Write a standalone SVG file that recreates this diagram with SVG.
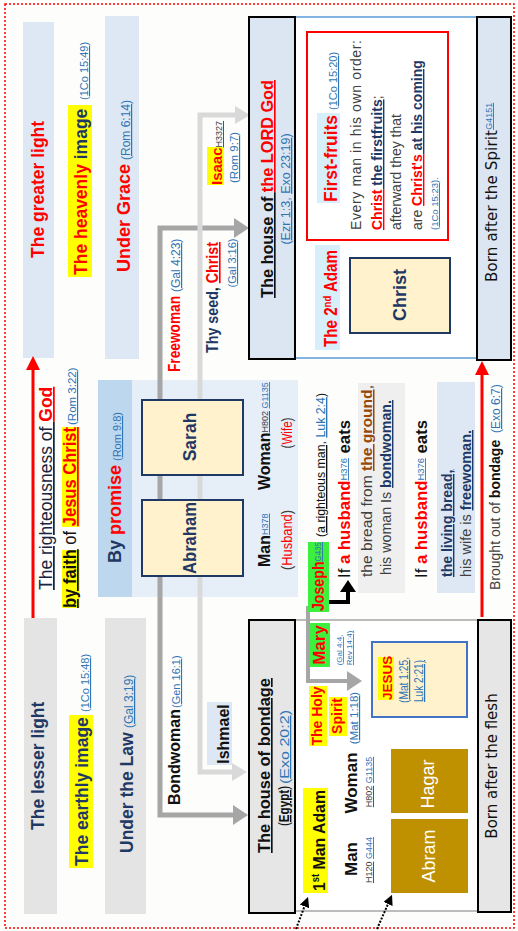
<svg xmlns="http://www.w3.org/2000/svg" width="518" height="931" viewBox="0 0 518 931">
<defs>
<style>
text{font-family:"Liberation Sans",Arial,sans-serif}
.b{font-weight:bold}
.red{fill:#ff0000}
.nv{fill:#1f3864}
.bk{fill:#111111}
.gy{fill:#404040}
.ref{fill:#2e75b6}
.u{text-decoration:underline}
.dj{font-family:"DejaVu Sans",sans-serif}
.yl{fill:#ffff00}
.gr{fill:#3ef03e}
.cy{fill:#d7effa}
.lb{fill:#dde8f4}
.lg{fill:#e4e4e4}
.node{fill:#fff2cc;stroke:#1f3864;stroke-width:2}
.hdr{stroke:#000;stroke-width:2}
.gold{fill:#bf9000}
.cd{fill:none;stroke:#a6a6a6;stroke-width:5}
.cl{fill:none;stroke:#d9d9d9;stroke-width:5}
</style>
<marker id="ahD" markerUnits="userSpaceOnUse" markerWidth="16" markerHeight="20" refX="0" refY="10" orient="auto"><path d="M0,0 L15,10 L0,20 z" fill="#a6a6a6"/></marker>
<marker id="ahL" markerUnits="userSpaceOnUse" markerWidth="16" markerHeight="20" refX="0" refY="10" orient="auto"><path d="M0,1 L15,10 L0,19 z" fill="#d9d9d9"/></marker>
<marker id="ahR" markerUnits="userSpaceOnUse" markerWidth="15" markerHeight="14" refX="0" refY="7" orient="auto"><path d="M0,0 L14,7 L0,14 z" fill="#ff0000"/></marker>
<marker id="ahB" markerUnits="userSpaceOnUse" markerWidth="13" markerHeight="16" refX="0" refY="8" orient="auto"><path d="M0,0 L12,8 L0,16 z" fill="#000"/></marker>
<marker id="ahS" markerUnits="userSpaceOnUse" markerWidth="11" markerHeight="10" refX="0" refY="5" orient="auto"><path d="M0,0 L10,5 L0,10 z" fill="#000"/></marker>
</defs>

<rect width="518" height="931" fill="#fdfdfb"/>
<rect x="5" y="4" width="509" height="924" fill="none" stroke="#ff0000" stroke-width="1.5" stroke-dasharray="2 2"/>

<g id="greater-light">
<rect x="23" y="22" width="31" height="336" class="lb"/>
<text class="b red" font-size="17.5" transform="translate(44,258) rotate(-90)">The greater light</text>
</g>
<g id="lesser-light">
<rect x="24" y="618" width="33" height="296" class="lg"/>
<text class="b nv" font-size="17.5" transform="translate(44,830) rotate(-90)">The lesser light</text>
</g>
<g id="heavenly-image">
<rect x="68" y="105" width="24" height="172" class="yl"/>
<text class="b" font-size="17.5" transform="translate(87,275) rotate(-90)"><tspan class="red">The heavenly</tspan><tspan class="nv"> image</tspan></text>
<text class="ref" font-size="11" transform="translate(88,100) rotate(-90)">(<tspan class="u">1Co 15:49</tspan>)</text>
</g>
<g id="earthly-image">
<rect x="69" y="715" width="24" height="153" class="yl"/>
<text class="b nv" font-size="17.5" transform="translate(88,866) rotate(-90)">The earthly image</text>
<text class="ref" font-size="11" transform="translate(89,712) rotate(-90)">(<tspan class="u">1Co 15:48</tspan>)</text>
</g>
<g id="under-grace">
<rect x="105" y="16" width="34" height="343" class="lb"/>
<text class="b red" font-size="18" transform="translate(130,272) rotate(-90)">Under Grace</text>
<text class="ref" font-size="12" transform="translate(130,160) rotate(-90)">(<tspan class="u">Rom 6:14</tspan>)</text>
</g>
<g id="under-law">
<rect x="105" y="618" width="41" height="296" class="lg"/>
<text class="b nv" font-size="17.5" transform="translate(133,853) rotate(-90)">Under the Law</text>
<text class="ref" font-size="12" transform="translate(133,728) rotate(-90)">(<tspan class="u">Gal 3:19</tspan>)</text>
</g>

<g id="righteousness">
<rect x="62" y="550" width="18" height="58" class="yl"/>
<rect x="62" y="427" width="18" height="100" class="yl"/>
<text font-size="17.5" transform="translate(52,590) rotate(-90)"><tspan fill="#1a2440" class="u">The righteousness of </tspan><tspan class="b red u">God</tspan></text>
<text font-size="17.5" transform="translate(76,608) rotate(-90)" textLength="181" lengthAdjust="spacingAndGlyphs"><tspan class="b bk u">by faith</tspan><tspan class="bk"> of </tspan><tspan class="b red u">Jesus Christ</tspan></text>
<text class="ref" font-size="11.5" transform="translate(76,425) rotate(-90)">(<tspan class="u">Rom 3:22</tspan>)</text>
</g>

<g id="promise">
<rect x="98" y="380" width="200" height="217" fill="#e6eef8"/>
<rect x="98" y="380" width="34" height="217" fill="#bdd7ee"/>
<text class="b" font-size="18" transform="translate(121,563) rotate(-90)"><tspan class="nv">By </tspan><tspan class="red">promise</tspan></text>
<text class="ref" font-size="11" transform="translate(121,461) rotate(-90)">(<tspan class="u">Rom 9:8</tspan>)</text>
</g>

<g id="frame-spirit">
<rect x="249" y="17" width="228" height="341" fill="#ffffff" stroke="#5b9bd5" stroke-width="1.5"/>
</g>
<g id="frame-flesh">
<rect x="249" y="620" width="229" height="291" fill="#ffffff" stroke="#a6a6a6" stroke-width="1.5"/>
</g>

<g id="connectors">
<path class="cd" d="M160,520 V228 H234" marker-end="url(#ahD)"/>
<path class="cd" d="M160,520 V815 H233" marker-end="url(#ahD)"/>
<path class="cl" d="M200,440 V115 H235" marker-end="url(#ahL)"/>
<path class="cl" d="M200,440 V772 H232" marker-end="url(#ahL)"/>
<path d="M33,618 V370" stroke="#ff0000" stroke-width="3" fill="none" marker-end="url(#ahR)"/>
<path d="M482,617 V375" stroke="#ff0000" stroke-width="3" fill="none" marker-end="url(#ahR)"/>
<path d="M327,608 H308 V681 H347" fill="none" stroke="#a6a6a6" stroke-width="4" marker-end="url(#ahD)"/>
<path d="M327,602 H348 V592" fill="none" stroke="#000" stroke-width="4" marker-end="url(#ahB)"/>
<path d="M296,929 L304.5,906.4" fill="none" stroke="#000" stroke-width="2" stroke-dasharray="2 1.5" marker-end="url(#ahS)"/>
<path d="M377,929 L388,904" fill="none" stroke="#000" stroke-width="2" stroke-dasharray="2 1.5" marker-end="url(#ahS)"/>
<text font-size="16" transform="translate(180,372) rotate(-90)" textLength="76" lengthAdjust="spacingAndGlyphs" class="b red">Freewoman</text>
<text class="ref" font-size="12" transform="translate(180,292) rotate(-90)">(<tspan class="u">Gal 4:23</tspan>)</text>
<text font-size="16" transform="translate(180,805) rotate(-90)" class="b bk">Bondwoman</text>
<text class="ref" font-size="11" transform="translate(180,708) rotate(-90)">(<tspan class="u">Gen 16:1</tspan>)</text>
<rect x="207" y="147" width="17" height="38" class="yl"/>
<text font-size="15" transform="translate(222,185) rotate(-90)"><tspan class="b red">Isaac</tspan><tspan class="gy u" font-size="9">H3327</tspan></text>
<text class="ref" font-size="11.5" transform="translate(238,183) rotate(-90)">(<tspan class="u">Rom 9:7</tspan>)</text>
<text font-size="16" class="b" transform="translate(218,353) rotate(-90)" textLength="111" lengthAdjust="spacingAndGlyphs"><tspan class="nv">Thy seed</tspan><tspan class="bk">, </tspan><tspan class="red u">Christ</tspan></text>
<text class="ref" font-size="11" text-anchor="middle" transform="translate(236,263) rotate(-90)">(<tspan class="u">Gal 3:16</tspan>)</text>
<rect x="207" y="702" width="25" height="63" class="lb"/>
<text font-size="16" class="b bk" text-anchor="middle" transform="translate(229,734) rotate(-90)">Ishmael</text>
</g>

<g id="abraham">
<rect x="142" y="500" width="101" height="76" class="node"/>
<text class="b nv" font-size="17.5" text-anchor="middle" transform="translate(196,538) rotate(-90)" textLength="72" lengthAdjust="spacingAndGlyphs">Abraham</text>
</g>
<g id="sarah">
<rect x="142" y="400" width="101" height="75" class="node"/>
<text class="b nv" font-size="17.5" text-anchor="middle" transform="translate(196,437) rotate(-90)">Sarah</text>
</g>
<g id="man-husband">
<text transform="translate(270,567) rotate(-90)"><tspan class="b bk" font-size="16">Man</tspan><tspan class="ref u" font-size="9" dy="-2">H378</tspan></text>
<text font-size="14" text-anchor="middle" transform="translate(292,540) rotate(-90)" textLength="60" lengthAdjust="spacingAndGlyphs"><tspan class="gy">(</tspan><tspan class="red">Husband</tspan><tspan class="gy">)</tspan></text>
</g>
<g id="woman-wife">
<text transform="translate(270,490) rotate(-90)"><tspan class="b bk" font-size="16">Woman</tspan><tspan font-size="9" dy="-2"><tspan class="gy u">H802</tspan> <tspan class="ref u">G1135</tspan></tspan></text>
<text font-size="14" text-anchor="middle" transform="translate(292,433) rotate(-90)" textLength="31" lengthAdjust="spacingAndGlyphs"><tspan class="gy">(</tspan><tspan class="red">Wife</tspan><tspan class="gy">)</tspan></text>
</g>

<g id="house-lord">
<rect x="249" y="17" width="46" height="342" fill="#dce6f2" class="hdr"/>
<text class="b" font-size="16.5" transform="translate(273,298) rotate(-90)" textLength="218" lengthAdjust="spacingAndGlyphs"><tspan class="bk u">The house of </tspan><tspan class="red u">the LORD God</tspan></text>
<text class="ref" font-size="12.5" text-anchor="middle" transform="translate(290,189) rotate(-90)">(<tspan class="u">Ezr 1:3</tspan>, <tspan class="u">Exo 23:19</tspan>)</text>
</g>

<g id="first-fruits">
<rect x="307" y="32" width="141" height="208" fill="#ffffff" stroke="#ff0000" stroke-width="2"/>
<rect x="317" y="113" width="23" height="90" class="cy"/>
<text class="b red" font-size="17.5" transform="translate(337,202) rotate(-90)" textLength="87" lengthAdjust="spacingAndGlyphs">First-fruits</text>
<text class="ref" font-size="11" transform="translate(337,110) rotate(-90)">(<tspan class="u">1Co 15:20</tspan>)</text>
<text class="gy" font-size="14" transform="translate(361,230) rotate(-90)" textLength="190" lengthAdjust="spacing">Every man in his own order:</text>
<text font-size="14" transform="translate(382,230) rotate(-90)"><tspan class="b red u">Christ</tspan><tspan class="b nv u"> the firstfruits</tspan><tspan class="gy">;</tspan></text>
<text class="gy" font-size="14" transform="translate(401,230) rotate(-90)">afterward they that</text>
<text font-size="14" transform="translate(422,230) rotate(-90)"><tspan class="gy">are </tspan><tspan class="b red u">Christ's</tspan><tspan class="b nv u"> at his coming</tspan></text>
<text class="ref" font-size="9.5" transform="translate(438,230) rotate(-90)">(<tspan class="u">1Co 15:23</tspan>).</text>
</g>

<g id="second-adam">
<rect x="315" y="245" width="25" height="105" class="cy"/>
<text class="b red" font-size="17.5" transform="translate(337,347) rotate(-90)" textLength="97" lengthAdjust="spacingAndGlyphs">The 2<tspan font-size="11" dy="-6">nd</tspan><tspan dy="6"> Adam</tspan></text>
</g>
<g id="christ">
<rect x="350" y="258" width="100" height="75" class="node"/>
<text class="b nv" font-size="18" text-anchor="middle" transform="translate(406,295) rotate(-90)">Christ</text>
</g>
<g id="born-spirit">
<rect x="477" y="17" width="34" height="343" fill="#dce6f2" class="hdr"/>
<text class="dj" font-size="15" transform="translate(497,282) rotate(-90)"><tspan fill="#111" textLength="152">Born after the Spirit</tspan><tspan class="ref u" font-size="9" dy="-5" font-family="Liberation Sans, Arial, sans-serif">G4151</tspan></text>
</g>
<g id="brought-out">
<text font-size="14" transform="translate(500,590) rotate(-90)"><tspan class="gy">Brought out of </tspan><tspan class="b bk">bondage</tspan></text>
<text class="ref" font-size="12" transform="translate(500,433) rotate(-90)">(<tspan class="u">Exo 6:7</tspan>)</text>
</g>

<g id="house-bondage">
<rect x="249" y="620" width="46" height="293" fill="#e6e6e6" class="hdr"/>
<text class="b bk u" font-size="16.5" transform="translate(270,853) rotate(-90)" textLength="175" lengthAdjust="spacingAndGlyphs">The house of bondage</text>
<text font-size="14" transform="translate(289,826) rotate(-90)" textLength="40" lengthAdjust="spacingAndGlyphs"><tspan class="bk">(</tspan><tspan class="b bk u">Egypt</tspan><tspan class="bk">)</tspan></text>
<text class="ref" font-size="12.5" transform="translate(289,784) rotate(-90)" textLength="74" lengthAdjust="spacingAndGlyphs">(<tspan class="u">Exo 20:2</tspan>)</text>
</g>
<g id="born-flesh">
<rect x="478" y="620" width="33" height="292" fill="#e6e6e6" class="hdr"/>
<text class="dj" font-size="15" fill="#111" text-anchor="middle" transform="translate(497,766) rotate(-90)">Born after the flesh</text>
</g>

<g id="first-adam">
<rect x="303" y="788" width="25" height="105" class="yl"/>
<text class="b bk" font-size="17" transform="translate(325,891) rotate(-90)" textLength="101" lengthAdjust="spacingAndGlyphs">1<tspan font-size="10" dy="-6">st</tspan><tspan dy="6"> Man Adam</tspan></text>
</g>
<g id="holy-spirit">
<rect x="309" y="686" width="18" height="60" class="yl"/>
<rect x="329" y="697" width="18" height="39" class="yl"/>
<text class="b red" font-size="14" text-anchor="middle" transform="translate(322,716) rotate(-90)">The Holy</text>
<text class="b red" font-size="14" text-anchor="middle" transform="translate(342,716) rotate(-90)">Spirit</text>
<text class="ref" font-size="11.5" text-anchor="middle" transform="translate(358,718) rotate(-90)">(<tspan class="u">Mat 1:18</tspan>)</text>
</g>
<g id="mary">
<rect x="310" y="623" width="20" height="44" class="gr"/>
<text class="b red" font-size="17" text-anchor="middle" transform="translate(325,645) rotate(-90)">Mary</text>
<text class="ref" font-size="8" text-anchor="middle" transform="translate(342,650) rotate(-90)">(<tspan class="u">Gal 4:4</tspan>,</text>
<text class="ref u" font-size="8" text-anchor="middle" transform="translate(352,648) rotate(-90)">Rev 14:4)</text>
</g>
<g id="joseph">
<rect x="308" y="542" width="21" height="70" class="gr"/>
<text font-size="16" transform="translate(324,611) rotate(-90)" textLength="69" lengthAdjust="spacingAndGlyphs"><tspan class="b red">Joseph</tspan><tspan class="ref u" font-size="9" dy="-3">G435</tspan></text>
<text font-size="13.5" transform="translate(325,537) rotate(-90)" textLength="144" lengthAdjust="spacingAndGlyphs"><tspan class="bk">(</tspan><tspan class="bk u">a righteous man,</tspan><tspan class="bk"> </tspan><tspan class="ref u">Luk 2:4</tspan><tspan class="bk">)</tspan></text>
</g>

<g id="husband-ground">
<rect x="358" y="383" width="47" height="210" fill="#efefef"/>
<text font-size="16" transform="translate(350,578) rotate(-90)" textLength="158" lengthAdjust="spacingAndGlyphs"><tspan class="bk">If </tspan><tspan class="b red">a husband</tspan><tspan class="ref u" font-size="9" dy="-3">H376</tspan><tspan class="b bk" dy="3"> eats</tspan></text>
<text font-size="15" transform="translate(372,577) rotate(-90)" textLength="192" lengthAdjust="spacingAndGlyphs"><tspan class="gy">the bread from </tspan><tspan class="b u" fill="#974806">the ground</tspan><tspan class="gy">,</tspan></text>
<text font-size="14" transform="translate(391,575) rotate(-90)" textLength="175" lengthAdjust="spacingAndGlyphs"><tspan class="gy">his woman Is </tspan><tspan class="b nv u">bondwoman.</tspan></text>
</g>
<g id="husband-living">
<rect x="437" y="382" width="38" height="211" class="lb"/>
<text font-size="16" transform="translate(427,578) rotate(-90)" textLength="158" lengthAdjust="spacingAndGlyphs"><tspan class="bk">If </tspan><tspan class="b red">a husband</tspan><tspan class="ref u" font-size="9" dy="-3">H376</tspan><tspan class="b bk" dy="3"> eats</tspan></text>
<text class="b nv u" font-size="14" transform="translate(452,577) rotate(-90)">the living bread,</text>
<text font-size="14" transform="translate(471,577) rotate(-90)" textLength="147" lengthAdjust="spacingAndGlyphs"><tspan class="gy">his wife is </tspan><tspan class="b nv u">freewoman.</tspan></text>
</g>

<g id="man-woman-flesh">
<text class="b bk" font-size="17" text-anchor="middle" transform="translate(357,859) rotate(-90)">Man</text>
<text font-size="9" text-anchor="middle" transform="translate(372,860) rotate(-90)"><tspan class="gy u">H120</tspan> <tspan class="ref u">G444</tspan></text>
<text class="b bk" font-size="17" text-anchor="middle" transform="translate(357,783) rotate(-90)">Woman</text>
<text font-size="9" text-anchor="middle" transform="translate(372,782) rotate(-90)"><tspan class="gy u">H802</tspan> <tspan class="ref u">G1135</tspan></text>
</g>
<g id="abram">
<rect x="391" y="819" width="77" height="74" class="gold"/>
<text fill="#ffffff" font-size="18" text-anchor="middle" transform="translate(435,856) rotate(-90)">Abram</text>
</g>
<g id="hagar">
<rect x="391" y="749" width="77" height="64" class="gold"/>
<text fill="#ffffff" font-size="18" text-anchor="middle" transform="translate(434,784) rotate(-90)">Hagar</text>
</g>
<g id="jesus">
<rect x="372" y="642" width="95" height="75" fill="#fff2cc" stroke="#4472c4" stroke-width="2"/>
<rect x="378" y="657" width="16" height="43" class="yl"/>
<text class="b red" font-size="13.5" transform="translate(392,700) rotate(-90)">JESUS</text>
<text class="ref" font-size="12" transform="translate(408,703) rotate(-90)" textLength="46" lengthAdjust="spacingAndGlyphs">(<tspan class="u">Mat 1:25</tspan>,</text>
<text class="ref u" font-size="12" transform="translate(423,702) rotate(-90)" textLength="42" lengthAdjust="spacingAndGlyphs">Luk 2:21)</text>
</g>
</svg>
